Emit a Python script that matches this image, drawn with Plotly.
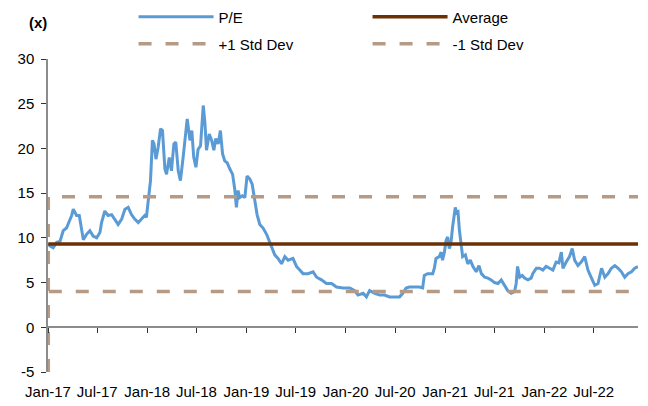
import plotly.graph_objects as go

# Daily P/E history (sampled), trailing multiple in x
PE_DATES = [
    "2017-01-02", "2017-01-08", "2017-01-20", "2017-02-02", "2017-02-14", "2017-02-26",
    "2017-03-10", "2017-03-22", "2017-03-29", "2017-04-04", "2017-04-16", "2017-04-26",
    "2017-05-05", "2017-05-11", "2017-05-23", "2017-06-04", "2017-06-16", "2017-06-29",
    "2017-07-11", "2017-07-17", "2017-07-29", "2017-08-10", "2017-08-23", "2017-09-04",
    "2017-09-16", "2017-09-29", "2017-10-11", "2017-10-23", "2017-11-04", "2017-11-16",
    "2017-11-29", "2017-12-11", "2017-12-23", "2017-12-29", "2018-01-04", "2018-01-13",
    "2018-01-20", "2018-01-26", "2018-02-02", "2018-02-10", "2018-02-19", "2018-02-26",
    "2018-03-07", "2018-03-13", "2018-03-23", "2018-03-31", "2018-04-09", "2018-04-16",
    "2018-04-25", "2018-05-03", "2018-05-13", "2018-05-20", "2018-05-28", "2018-06-07",
    "2018-06-14", "2018-06-21", "2018-06-29", "2018-07-07", "2018-07-16", "2018-07-26",
    "2018-08-01", "2018-08-07", "2018-08-17", "2018-08-26", "2018-09-03", "2018-09-10",
    "2018-09-19", "2018-09-27", "2018-10-05", "2018-10-13", "2018-10-22", "2018-11-01",
    "2018-11-11", "2018-11-19", "2018-11-25", "2018-12-01", "2018-12-07", "2018-12-17",
    "2018-12-26", "2019-01-03", "2019-01-13", "2019-01-22", "2019-01-31", "2019-02-09",
    "2019-02-19", "2019-03-03", "2019-03-16", "2019-03-28", "2019-04-09", "2019-04-15",
    "2019-04-27", "2019-05-10", "2019-05-22", "2019-06-03", "2019-06-21", "2019-07-04",
    "2019-07-16", "2019-07-28", "2019-08-15", "2019-09-03", "2019-09-16", "2019-10-04",
    "2019-10-22", "2019-11-10", "2019-11-28", "2019-12-22", "2020-01-16", "2020-02-03",
    "2020-02-15", "2020-03-05", "2020-03-17", "2020-03-29", "2020-04-17", "2020-05-05",
    "2020-05-23", "2020-06-10", "2020-06-28", "2020-07-17", "2020-07-29", "2020-08-10",
    "2020-08-22", "2020-09-10", "2020-09-28", "2020-10-10", "2020-10-16", "2020-10-28",
    "2020-11-16", "2020-11-22", "2020-11-28", "2020-12-10", "2020-12-17", "2020-12-22",
    "2020-12-29", "2021-01-04", "2021-01-10", "2021-01-16", "2021-01-22", "2021-01-28",
    "2021-02-03", "2021-02-07", "2021-02-12", "2021-02-17", "2021-02-22", "2021-02-28",
    "2021-03-06", "2021-03-16", "2021-03-25", "2021-04-03", "2021-04-13", "2021-04-25",
    "2021-05-05", "2021-05-14", "2021-05-26", "2021-06-07", "2021-06-19", "2021-07-01",
    "2021-07-14", "2021-07-26", "2021-08-07", "2021-08-19", "2021-09-01", "2021-09-13",
    "2021-09-19", "2021-09-24", "2021-10-02", "2021-10-11", "2021-10-20", "2021-11-01",
    "2021-11-13", "2021-11-19", "2021-12-02", "2021-12-14", "2021-12-26", "2022-01-07",
    "2022-01-20", "2022-02-01", "2022-02-13", "2022-02-23", "2022-03-04", "2022-03-10",
    "2022-03-22", "2022-04-03", "2022-04-13", "2022-04-22", "2022-05-04", "2022-05-16",
    "2022-05-29", "2022-06-10", "2022-06-23", "2022-07-05", "2022-07-17", "2022-07-30",
    "2022-08-11", "2022-08-23", "2022-09-04", "2022-09-17", "2022-09-29", "2022-10-11",
    "2022-10-23", "2022-11-04", "2022-11-17", "2022-11-29", "2022-12-11",
]
PE_VALUES = [
    9.4, 9.1, 8.9, 9.5, 9.6, 10.8,
    11.1, 11.9, 12.5, 13.2, 12.5, 12.5,
    10.8, 9.8, 10.4, 10.8, 10.2, 10.0,
    10.6, 11.7, 13.0, 12.5, 12.6, 12.1,
    11.5, 12.1, 13.2, 13.4, 12.6, 12.1,
    11.7, 12.1, 12.5, 12.3, 14.1, 16.4,
    20.9, 20.5, 18.8, 20.1, 22.2, 22.0,
    17.7, 17.1, 19.0, 17.5, 20.5, 20.7,
    17.5, 16.4, 19.0, 20.9, 23.3, 20.9,
    22.0, 19.0, 17.9, 19.9, 20.3, 24.8,
    22.9, 19.8, 21.6, 20.9, 19.8, 21.1,
    20.5, 22.0, 19.4, 18.6, 18.4, 17.7,
    17.1, 15.4, 13.4, 15.3, 14.5, 14.7,
    14.5, 16.9, 16.6, 16.0, 14.1, 12.6,
    11.5, 11.1, 10.4, 9.5, 8.7, 8.1,
    7.7, 7.1, 7.9, 7.5, 7.7, 6.8,
    6.4, 6.0, 6.0, 6.2, 5.6, 5.3,
    4.9, 4.9, 4.5, 4.4, 4.4, 4.1,
    3.6, 3.8, 3.4, 4.1, 3.8, 3.6,
    3.6, 3.4, 3.4, 3.4, 3.8, 4.4,
    4.5, 4.5, 4.5, 4.4, 5.8, 6.0,
    6.0, 6.6, 7.7, 7.9, 8.4, 7.5,
    8.4, 9.7, 10.1, 8.8, 9.4, 11.2,
    12.4, 13.4, 12.8, 12.9, 10.9, 9.0,
    7.9, 8.1, 7.1, 7.5, 6.8, 6.2,
    6.9, 6.0, 5.6, 5.5, 5.3, 5.0,
    4.9, 5.3, 4.7, 4.1, 3.8, 4.0,
    4.9, 6.8, 5.6, 5.8, 5.5, 5.3,
    5.5, 6.0, 6.6, 6.6, 6.4, 6.8,
    6.6, 6.4, 7.3, 7.2, 8.4, 6.6,
    7.3, 7.9, 8.8, 7.5, 6.9, 7.3,
    7.9, 6.4, 5.5, 4.7, 4.9, 6.6,
    5.6, 6.0, 6.6, 6.9, 6.6, 6.2,
    5.6, 6.0, 6.2, 6.6, 6.8,
]

AVERAGE = 9.3
PLUS_1_SD = 14.6
MINUS_1_SD = 4.0
SD_SERIES_START = -5.0  # first value of the std-dev series

Y_MIN, Y_MAX = -5, 30
Y_TICKS = [-5, 0, 5, 10, 15, 20, 25, 30]
Y_TICK_TEXT = ["-5", "0", "5", "10", "15", "20", "25", "30"]
X_START = "2017-01-01"

FONT = "Liberation Sans, Arial, sans-serif"
BLUE = "#5b9bd5"
BROWN = "#6b3104"
TAN = "#b59a85"
AXIS_GREY = "#8c8c8c"
DASH = "13px,14px"

first, last = PE_DATES[0], PE_DATES[-1]

fig = go.Figure()
fig.add_trace(go.Scatter(
    x=PE_DATES, y=PE_VALUES, name="P/E", mode="lines",
    line=dict(color=BLUE, width=3), legend="legend",
))
fig.add_trace(go.Scatter(
    x=[first, last], y=[AVERAGE, AVERAGE], name="Average", mode="lines",
    line=dict(color=BROWN, width=3.5), legend="legend",
))
fig.add_trace(go.Scatter(
    x=[first, first, last], y=[SD_SERIES_START, PLUS_1_SD, PLUS_1_SD],
    name="+1 Std Dev", mode="lines",
    line=dict(color=TAN, width=3.5, dash=DASH), legend="legend2",
))
fig.add_trace(go.Scatter(
    x=[first, first, last], y=[SD_SERIES_START, MINUS_1_SD, MINUS_1_SD],
    name="-1 Std Dev", mode="lines",
    line=dict(color=TAN, width=3.5, dash=DASH), legend="legend2",
))
# carrier for the axis line drawn through zero
fig.add_trace(go.Scatter(
    x=[first], y=[None], xaxis="x2", mode="lines", showlegend=False,
    hoverinfo="skip",
))

x_range = [X_START, last]
zero_pos = (0 - Y_MIN) / (Y_MAX - Y_MIN)

legend_common = dict(
    orientation="h", xanchor="left", yanchor="middle",
    entrywidth=144, entrywidthmode="pixels", itemwidth=75,
    font=dict(family=FONT, size=15, color="#000000"),
    bgcolor="rgba(0,0,0,0)", traceorder="normal",
)

fig.update_layout(
    width=648, height=406,
    margin=dict(l=48, r=10, t=59, b=34, autoexpand=False),
    paper_bgcolor="white", plot_bgcolor="white",
    font=dict(family=FONT, size=15, color="#000000"),
    showlegend=True,
    legend=dict(x=0.145, y=1.134, **legend_common),
    legend2=dict(x=0.145, y=1.048, **legend_common),
    xaxis=dict(
        type="date", range=x_range,
        tick0="2017-01-01", dtick="M6", tickformat="%b-%y",
        showline=False, showgrid=False, zeroline=False,
        ticks="", ticklabelstandoff=9,
        tickfont=dict(family=FONT, size=15),
    ),
    xaxis2=dict(
        type="date", range=x_range, overlaying="x", anchor="free",
        position=zero_pos, side="bottom",
        tick0="2017-01-01", dtick="M6",
        showline=True, linecolor=AXIS_GREY, linewidth=1.5,
        ticks="outside", ticklen=5, tickcolor="#333333", tickwidth=1,
        showticklabels=False, showgrid=False, zeroline=False,
    ),
    yaxis=dict(
        range=[Y_MIN, Y_MAX], tickvals=Y_TICKS, ticktext=Y_TICK_TEXT,
        showline=True, linecolor=AXIS_GREY, linewidth=1.5,
        ticks="outside", ticklen=5, tickcolor="#333333", tickwidth=1,
        showgrid=False, zeroline=False, ticklabelstandoff=4,
        tickfont=dict(family=FONT, size=15),
    ),
    annotations=[dict(
        text="<b>(x)</b>", xref="paper", yref="paper",
        x=-0.017, y=1.118, xanchor="center", yanchor="middle",
        showarrow=False, font=dict(family=FONT, size=15, color="#000000"),
    )],
)

fig.write_html("out.html")
